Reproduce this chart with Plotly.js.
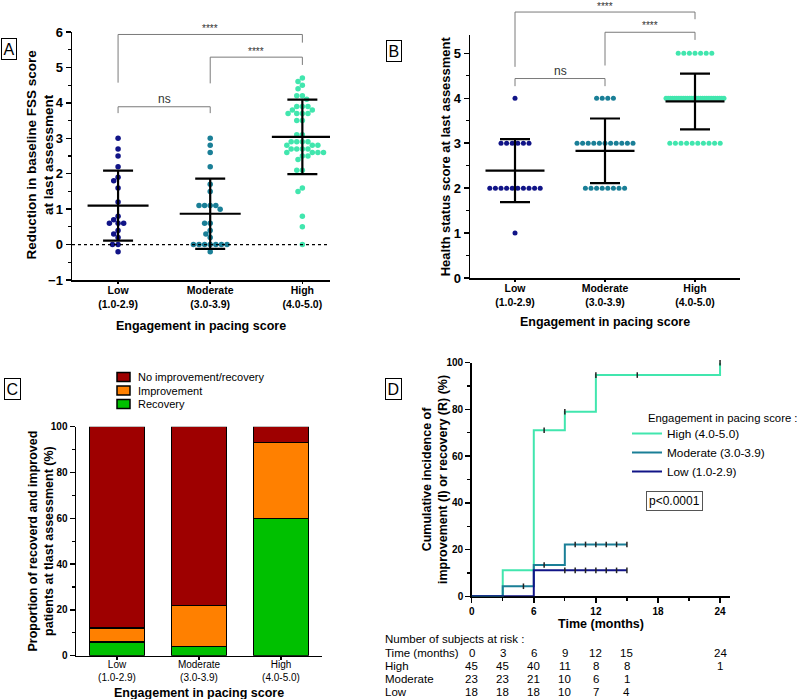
<!DOCTYPE html>
<html><head><meta charset="utf-8">
<script src="https://cdn.plot.ly/plotly-3.0.1.min.js"></script>
<style>html,body{margin:0;padding:0;background:#fff}#chart{width:797px;height:699px}</style>
</head><body><div id="chart"></div>
<script>
// ---------------- DATA ----------------
const groupNames = ['Low', 'Moderate', 'High'];
const groupRanges = ['(1.0-2.9)', '(3.0-3.9)', '(4.0-5.0)'];
const groupColors = ['#111487', '#1A7F97', '#41E6AE'];

// Panel A: reduction in baseline FSS score at last assessment
const fssLow = [3.0, 2.7, 2.5, 2.2, 1.9, 1.8, 1.6, 1.2, 0.8, 0.7, 0.6, 0.6, 0.6, 0.4, 0.3, 0.2, 0.0, 0.0, -0.2];
const fssModerate = [3.0, 2.8, 2.6, 2.2, 1.7, 1.5, 1.1, 1.1, 1.1, 1.1, 1.0, 0.6, 0.6, 0.4, 0.3, 0.2, 0.0, 0.0, 0.0, 0.0, 0.0, 0.0, 0.0, -0.2];
const fssHigh = [4.7, 4.6, 4.5, 4.4, 4.2, 4.2, 4.1, 3.9, 3.9, 3.9, 3.8, 3.8, 3.7, 3.7, 3.7, 3.7, 3.5, 3.5, 3.1, 3.1,
  2.9, 2.9, 2.9, 2.9, 2.8, 2.8, 2.8, 2.7, 2.7, 2.7, 2.7, 2.6, 2.6, 2.6, 2.6, 2.5, 2.5, 2.4, 2.1, 2.1, 1.6, 1.5, 0.8, 0.5, 0.0];
const fssMeans = [1.10, 0.87, 3.04];
const fssSD = [0.99, 0.99, 1.05];

// Panel B: health status score at last assessment
const healthLow = [4, 3, 3, 3, 3, 3, 3, 2, 2, 2, 2, 2, 2, 2, 2, 2, 2, 1];
const healthModerate = [4, 4, 4, 4, 3, 3, 3, 3, 3, 3, 3, 3, 3, 3, 3, 2, 2, 2, 2, 2, 2, 2, 2];
const healthHigh = [5, 5, 5, 5, 5, 5, 5,
  4, 4, 4, 4, 4, 4, 4, 4, 4, 4, 4, 4, 4, 4, 4, 4, 4, 4, 4, 4, 4, 4, 4, 4, 4, 4, 4, 4,
  3, 3, 3, 3, 3, 3, 3, 3, 3, 3];
const healthMeans = [2.39, 2.83, 3.93];
const healthSD = [0.70, 0.72, 0.62];

// Panel C: proportion of recovered / improved patients (%)
const outcomeNames = ['Recovery', 'Improvement', 'No improvement/recovery'];
const outcomeColors = ['#00C000', '#FF8000', '#9E0000'];
const recoveryPct = [6, 4, 60];
const improvementPct = [6, 18, 33];
const noImprovementPct = [88, 78, 7];

// Panel D: cumulative incidence (%)
const kmHighT = [0, 3, 6, 9, 12, 24];
const kmHighY = [0, 11.1, 71.1, 79.0, 94.7, 100];
const kmModT = [0, 3, 6, 9, 15];
const kmModY = [0, 4.3, 13.4, 22.2, 22.2];
const kmLowT = [0, 6, 15];
const kmLowY = [0, 11.1, 11.1];
const censHighT = [7, 9, 12, 16, 24];
const censHighY = [71.1, 79.0, 94.7, 94.7, 100];
const censModT = [5, 7, 10, 11, 12, 13, 14, 15];
const censModY = [4.3, 13.4, 22.2, 22.2, 22.2, 22.2, 22.2, 22.2];
const censLowT = [9, 10, 11, 12, 13, 14, 15];
const censLowY = [11.1, 11.1, 11.1, 11.1, 11.1, 11.1, 11.1];

// Number at risk table
const riskTimes = [0, 3, 6, 9, 12, 15, 24];
const riskHigh = [45, 45, 40, 11, 8, 8, 1];
const riskModerate = [23, 23, 21, 10, 6, 1, ''];
const riskLow = [18, 18, 18, 10, 7, 4, ''];

// ---------------- LAYOUT HELPERS ----------------
const W = 797, H = 699;
const px = v => v / W;
const py = v => 1 - v / H;
const FONT = 'Arial, "Liberation Sans", sans-serif';
const catLabels = groupNames.map((n, i) => n + '<br>' + groupRanges[i]);

const A = {x0: 72, x1: 330, yTop: 32, yBot: 280, xr: [-0.5, 2.3], yr: [-1, 6]};
const B = {x0: 470, x1: 740, yTop: 35.4, yBot: 278, xr: [-0.5, 2.5], yr: [0, 5.4]};
const C = {x0: 76, x1: 322, yTop: 426.7, yBot: 655.7, xr: [-0.5, 2.5], yr: [0, 100]};
const D = {x0: 471.7, x1: 730.4, yTop: 362.7, yBot: 596.3, xr: [0, 25], yr: [0, 100]};

function pxPerX(P) { return (P.x1 - P.x0) / (P.xr[1] - P.xr[0]); }
function pxPerY(P) { return (P.yBot - P.yTop) / (P.yr[1] - P.yr[0]); }

// beeswarm offsets (in category units), greedy, no overlap
function swarm(values, P, diam) {
  const ky = pxPerY(P), kx = pxPerX(P);
  const order = values.map((v, i) => i).sort((a, b) => values[b] - values[a]);
  const placed = [];
  const off = new Array(values.length).fill(0);
  for (const i of order) {
    const y = values[i] * ky;
    const blocks = [];
    for (const p of placed) {
      const dy = Math.abs(p.y - y);
      if (dy < diam) { const w = Math.sqrt(diam * diam - dy * dy); blocks.push([p.x - w, p.x + w]); }
    }
    const cands = [0];
    blocks.forEach(b => cands.push(b[0], b[1]));
    cands.sort((a, b) => (Math.abs(a) - Math.abs(b)) || (a - b));
    let x = 0;
    for (const c of cands) {
      if (blocks.every(b => c <= b[0] + 1e-6 || c >= b[1] - 1e-6)) { x = c; break; }
    }
    placed.push({x, y});
    off[i] = x / kx;
  }
  return off;
}
// rows of identical values, centred, compressed if too wide
function rowsLayout(values, P, spacing, maxWidth) {
  const kx = pxPerX(P);
  const groups = {};
  values.forEach((v, i) => { (groups[v] = groups[v] || []).push(i); });
  const off = new Array(values.length).fill(0);
  Object.values(groups).forEach(ids => {
    const n = ids.length;
    const sp = n > 1 ? Math.min(spacing, maxWidth / (n - 1)) : 0;
    ids.forEach((id, k) => { off[id] = (k - (n - 1) / 2) * sp / kx; });
  });
  return off;
}

const traces = [];
// ----- Panel A -----
[fssLow, fssModerate, fssHigh].forEach((vals, g) => {
  const off = swarm(vals, A, 5.6);
  traces.push({type: 'scatter', mode: 'markers', xaxis: 'x', yaxis: 'y', showlegend: false,
    x: off.map(o => g + o), y: vals, name: groupNames[g],
    marker: {size: 5.5, color: groupColors[g]}, hoverinfo: 'y'});
});
traces.push({type: 'scatter', mode: 'markers', xaxis: 'x', yaxis: 'y', showlegend: false,
  x: [0, 1, 2], y: fssMeans, name: 'Mean ± SD',
  marker: {symbol: 'line-ew', size: 61 / 1.4, color: '#000', line: {color: '#000', width: 2.2}},
  error_y: {type: 'data', array: fssSD, visible: true, width: 15, thickness: 2.2, color: '#000'}});

// ----- Panel B -----
[healthLow, healthModerate, healthHigh].forEach((vals, g) => {
  const off = rowsLayout(vals, B, 5.6, 58);
  traces.push({type: 'scatter', mode: 'markers', xaxis: 'x2', yaxis: 'y2', showlegend: false,
    x: off.map(o => g + o), y: vals, name: groupNames[g],
    marker: {size: 5, color: groupColors[g]}, hoverinfo: 'y'});
});
traces.push({type: 'scatter', mode: 'markers', xaxis: 'x2', yaxis: 'y2', showlegend: false,
  x: [0, 1, 2], y: healthMeans, name: 'Mean ± SD',
  marker: {symbol: 'line-ew', size: 59 / 1.4, color: '#000', line: {color: '#000', width: 2.2}},
  error_y: {type: 'data', array: healthSD, visible: true, width: 15, thickness: 2.2, color: '#000'}});

// ----- Panel C -----
[recoveryPct, improvementPct, noImprovementPct].forEach((vals, k) => {
  traces.push({type: 'bar', xaxis: 'x3', yaxis: 'y3', showlegend: false, name: outcomeNames[k],
    x: [0, 1, 2], y: vals, width: 0.67,
    marker: {color: outcomeColors[k], line: {color: '#000', width: 1.5}}});
});

// ----- Panel D -----
const kmSets = [
  {t: kmHighT, y: kmHighY, ct: censHighT, cy: censHighY, c: groupColors[2], n: 'High (4.0-5.0)'},
  {t: kmModT, y: kmModY, ct: censModT, cy: censModY, c: groupColors[1], n: 'Moderate (3.0-3.9)'},
  {t: kmLowT, y: kmLowY, ct: censLowT, cy: censLowY, c: groupColors[0], n: 'Low (1.0-2.9)'}
];
kmSets.forEach(s => {
  traces.push({type: 'scatter', mode: 'lines', xaxis: 'x4', yaxis: 'y4', legend: 'legend2',
    x: s.t, y: s.y, name: s.n, line: {shape: 'hv', color: s.c, width: 2}});
});
kmSets.forEach(s => {
  traces.push({type: 'scatter', mode: 'markers', xaxis: 'x4', yaxis: 'y4', showlegend: false,
    x: s.ct, y: s.cy, name: s.n + ' censored', cliponaxis: false,
    marker: {symbol: 'line-ns', size: 4, color: '#222', line: {color: '#222', width: 1.5}}});
});

// ---------------- AXES ----------------
const axBase = {showline: true, linecolor: '#000', linewidth: 1.5, ticks: 'outside', tickwidth: 1.5,
  tickcolor: '#000', ticklen: 5, showgrid: false, zeroline: false, fixedrange: true};
const minorY = d => ({dtick: d, ticks: 'outside', ticklen: 3, tickwidth: 1.2, tickcolor: '#000', showgrid: false});
const boldFont = s => ({family: FONT, size: s, weight: 'bold', color: '#000'});

const layout = {
  width: W, height: H, margin: {l: 0, r: 0, t: 0, b: 0},
  paper_bgcolor: '#fff', plot_bgcolor: '#fff',
  font: {family: FONT, color: '#000', size: 12},
  barmode: 'stack',
  showlegend: true,
  xaxis: Object.assign({}, axBase, {domain: [px(A.x0), px(A.x1)], range: A.xr, anchor: 'y',
    tickvals: [0, 1, 2], ticktext: catLabels, ticklen: 2, ticklabelstandoff: -2, tickfont: boldFont(10.5),
    title: {text: 'Engagement in pacing score', font: boldFont(12.5), standoff: 12}}),
  yaxis: Object.assign({}, axBase, {domain: [py(A.yBot), py(A.yTop)], range: A.yr, anchor: 'x',
    dtick: 1, tick0: 0, minor: minorY(0.5), tickfont: boldFont(13)}),
  xaxis2: Object.assign({}, axBase, {domain: [px(B.x0), px(B.x1)], range: B.xr, anchor: 'y2',
    tickvals: [0, 1, 2], ticktext: catLabels, ticklen: 2, ticklabelstandoff: -2, tickfont: boldFont(10.5),
    title: {text: 'Engagement in pacing score', font: boldFont(12.5), standoff: 10}}),
  yaxis2: Object.assign({}, axBase, {domain: [py(B.yBot), py(B.yTop)], range: B.yr, anchor: 'x2',
    dtick: 1, tick0: 0, minor: minorY(0.5), tickfont: boldFont(13),
    title: {text: 'Health status score at last assessment', font: boldFont(13), standoff: 0}}),
  xaxis3: Object.assign({}, axBase, {domain: [px(C.x0), px(C.x1)], range: C.xr, anchor: 'y3',
    tickvals: [0, 1, 2], ticktext: catLabels, ticklen: 3, ticklabelstandoff: -4,
    tickfont: {family: FONT, size: 10, color: '#000'}}),
  yaxis3: Object.assign({}, axBase, {domain: [py(C.yBot), py(C.yTop)], range: C.yr, anchor: 'x3',
    dtick: 20, tick0: 0, minor: minorY(10), tickfont: boldFont(10)}),
  xaxis4: Object.assign({}, axBase, {domain: [px(D.x0), px(D.x1)], range: D.xr, anchor: 'y4',
    tickvals: [0, 6, 12, 18, 24], minor: {dtick: 3, tick0: 0, ticks: 'outside', ticklen: 3, tickwidth: 1.2, tickcolor: '#000'},
    tickfont: boldFont(10), layer: 'below traces',
    title: {text: 'Time (months)', font: boldFont(12.5), standoff: 2}}),
  yaxis4: Object.assign({}, axBase, {domain: [py(D.yBot), py(D.yTop)], range: D.yr, anchor: 'x4',
    dtick: 20, tick0: 0, minor: minorY(10), tickfont: boldFont(10), layer: 'below traces'}),
  legend2: {x: px(627), y: py(419), xanchor: 'left', yanchor: 'top', traceorder: 'normal',
    bgcolor: 'rgba(0,0,0,0)', font: {family: FONT, size: 11.8, color: '#000'}},
  shapes: [],
  annotations: []
};

// rotated y titles (two lines) placed as text
const ytitles = [
  ['Reduction in baseline FSS score<br>at last assessment', 39.5, 155, 13.5],
  ['Proportion of recoverd and improved<br>patients at tlast assessment (%)', 40.5, 541, 12.5],
  ['Cumulative incidence of<br>improvement (I) or recovery (R) (%)', 434.5, 479.5, 12.5]
];
ytitles.forEach(([t, x, y, s]) => {
  layout.annotations.push({xref: 'paper', yref: 'paper', x: px(x), y: py(y), text: t, textangle: -90,
    showarrow: false, xanchor: 'center', yanchor: 'middle', font: boldFont(s)});
});
// x title of panel C
layout.annotations.push({xref: 'paper', yref: 'paper', x: px((C.x0 + C.x1) / 2), y: py(692.5), text: 'Engagement in pacing score',
  showarrow: false, xanchor: 'center', yanchor: 'middle', font: boldFont(12.5)});

// zero reference line in A
layout.shapes.push({type: 'line', xref: 'x', yref: 'y', x0: A.xr[0], x1: A.xr[1], y0: 0, y1: 0,
  line: {color: '#000', width: 1.2, dash: 'dot'}});

// significance brackets (category index, value units)
const bracketsA = [
  {a: 0, b: 2, y: 5.93, la: 4.57, lb: 5.70, t: '****', ty: 6.10},
  {a: 1, b: 2, y: 5.29, la: 4.55, lb: 5.07, t: '****', ty: 5.46},
  {a: 0, b: 1, y: 3.89, la: 3.71, lb: 3.71, t: 'ns', ty: 4.10}
];
const bracketsB = [
  {a: 0, b: 2, y: 5.92, la: 4.70, lb: 5.76, t: '****', ty: 6.05},
  {a: 1, b: 2, y: 5.47, la: 4.73, lb: 5.30, t: '****', ty: 5.63},
  {a: 0, b: 1, y: 4.44, la: 4.27, lb: 4.27, t: 'ns', ty: 4.60}
];
function addBrackets(list, P, xr, yr) {
  const f = v => (v - P.yr[0]) / (P.yr[1] - P.yr[0]);
  const ln = {color: '#7a7a7a', width: 1};
  list.forEach(br => {
    layout.shapes.push({type: 'line', xref: xr, yref: yr + ' domain', x0: br.a, x1: br.a, y0: f(br.la), y1: f(br.y), line: ln});
    layout.shapes.push({type: 'line', xref: xr, yref: yr + ' domain', x0: br.a, x1: br.b, y0: f(br.y), y1: f(br.y), line: ln});
    layout.shapes.push({type: 'line', xref: xr, yref: yr + ' domain', x0: br.b, x1: br.b, y0: f(br.lb), y1: f(br.y), line: ln});
    layout.annotations.push({xref: xr, yref: yr + ' domain', x: (br.a + br.b) / 2, y: f(br.ty), text: br.t,
      showarrow: false, xanchor: 'center', yanchor: 'middle',
      font: {family: FONT, size: br.t === 'ns' ? 12 : 10, color: '#333'}});
  });
}
addBrackets(bracketsA, A, 'x', 'y');
addBrackets(bracketsB, B, 'x2', 'y2');

// panel letters
[['A', 8.5, 48.5], ['B', 393.5, 51], ['C', 12, 388.5], ['D', 393, 388.5]].forEach(([t, x, y]) => {
  layout.annotations.push({xref: 'paper', yref: 'paper', x: px(x), y: py(y), text: t, showarrow: false,
    xanchor: 'center', yanchor: 'middle', font: {family: FONT, size: 16, color: '#000'},
    bordercolor: '#000', borderwidth: 1, borderpad: 1.5, bgcolor: '#fff'});
});

// legend of panel C (swatches + labels), top row first
const legendRowsY = [377, 390.5, 404];
[2, 1, 0].forEach((k, r) => {
  const yc = legendRowsY[r];
  layout.shapes.push({type: 'rect', xref: 'paper', yref: 'paper', x0: px(117), x1: px(130), y0: py(yc + 4.5), y1: py(yc - 4.5),
    fillcolor: outcomeColors[k], line: {color: '#000', width: 1.5}});
  layout.annotations.push({xref: 'paper', yref: 'paper', x: px(136), y: py(yc), text: outcomeNames[k],
    showarrow: false, xanchor: 'left', yanchor: 'middle', font: {family: FONT, size: 11, color: '#000'}});
});

// legend title for D and p-value box
layout.annotations.push({xref: 'paper', yref: 'paper', x: px(646), y: py(418), text: 'Engagement in pacing score :',
  showarrow: false, xanchor: 'left', yanchor: 'middle', font: {family: FONT, size: 11.3, color: '#000'}});
layout.annotations.push({xref: 'paper', yref: 'paper', x: px(674), y: py(501), text: 'p<0.0001',
  showarrow: false, xanchor: 'center', yanchor: 'middle', font: {family: FONT, size: 12, color: '#000'},
  bordercolor: '#555', borderwidth: 1, borderpad: 2});

// number at risk table
const tblFont = {family: FONT, size: 11.5, color: '#000'};
const tblX = px(383);
layout.annotations.push({xref: 'paper', yref: 'paper', x: tblX, y: py(639), text: 'Number of subjects at risk :',
  showarrow: false, xanchor: 'left', yanchor: 'middle', font: tblFont});
const tblRows = [['Time (months)', riskTimes, 652.5], ['High', riskHigh, 665.5], ['Moderate', riskModerate, 678.5], ['Low', riskLow, 691.5]];
tblRows.forEach(([lab, vals, y]) => {
  layout.annotations.push({xref: 'paper', yref: 'paper', x: tblX, y: py(y), text: lab, showarrow: false,
    xanchor: 'left', yanchor: 'middle', font: tblFont});
  vals.forEach((v, j) => {
    if (v === '') return;
    layout.annotations.push({xref: 'x4', yref: 'paper', x: riskTimes[j], y: py(y), text: String(v),
      showarrow: false, xanchor: 'center', yanchor: 'middle', font: tblFont});
  });
});

Plotly.newPlot('chart', traces, layout, {staticPlot: true, displayModeBar: false});
</script></body></html>
